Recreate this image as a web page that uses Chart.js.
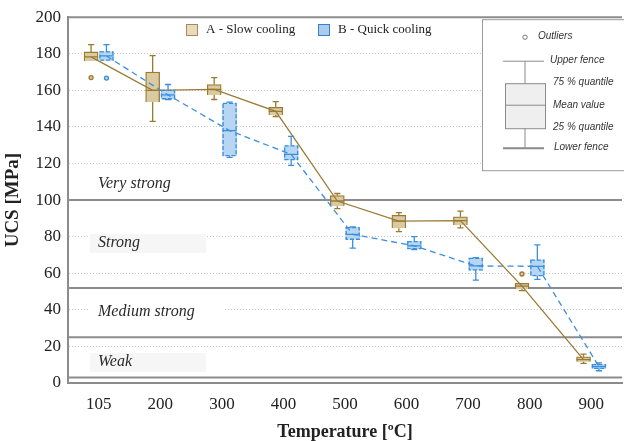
<!DOCTYPE html>
<html>
<head>
<meta charset="utf-8">
<script src="https://cdn.jsdelivr.net/npm/chart.js@4"></script>
<style>
  html, body { margin: 0; padding: 0; background: #fff; }
</style>
</head>
<body>
<canvas id="chart" width="624" height="441"></canvas>
<script>
// temperatures (categories)
const TEMPERATURES = ["105", "200", "300", "400", "500", "600", "700", "800", "900"];

// A - Slow cooling (UCS, MPa)
const A_MIN  = [176.0, 143.0, 155.0, 145.7, 95.3, 82.8, 84.8, 50.5, 10.7];
const A_Q1   = [176.0, 153.6, 157.4, 146.5, 96.7, 84.6, 86.4, 51.4, 11.6];
const A_MEAN = [178.3, 160.0, 160.5, 148.5, 99.5, 88.5, 88.8, 53.0, 12.8];
const A_Q3   = [181.0, 170.0, 163.2, 150.7, 102.5, 91.7, 90.9, 54.5, 14.3];
const A_MAX  = [185.0, 179.0, 167.0, 153.8, 103.6, 93.1, 94.0, 54.5, 15.8];
const A_OUT  = [[167.0], [], [], [], [], [], [], [59.6], []];

// B - Quick cooling (UCS, MPa)
const B_MIN  = [176.5, 155.0, 123.4, 119.0, 73.7, 73.0, 56.3, 56.7, 6.7];
const B_Q1   = [176.5, 155.4, 124.3, 122.1, 78.6, 73.5, 61.8, 58.7, 8.0];
const B_MEAN = [178.8, 157.5, 138.0, 125.0, 81.3, 75.0, 64.0, 63.8, 9.0];
const B_Q3   = [181.0, 160.0, 152.9, 129.7, 85.0, 77.3, 68.1, 67.2, 10.1];
const B_MAX  = [185.0, 163.2, 153.6, 134.8, 85.3, 80.0, 68.5, 75.5, 11.0];
const B_OUT  = [[166.7], [], [], [], [], [], [], [], []];

// strength classes: limit lines and labels
const CLASS_LIMITS = [100, 52, 25, 3];
const CLASS_NAMES  = ["Very strong", "Strong", "Medium strong", "Weak"];
const CLASS_LABEL_AT = [109, 76.5, 39, 11.5];

const Y_TICKS = [0, 20, 40, 60, 80, 100, 120, 140, 160, 180, 200];

const A_FILL = "#d9caa2", A_BORDER = "#9a7a30";
const B_FILL = "#b6d6f3", B_BORDER = "#3a8edb";
const SERIF = "'Liberation Serif', 'DejaVu Serif', serif";
const SANS = "'Liberation Sans', Arial, sans-serif";

const SHIFT = 0.125; // box centre offset from the category centre, in category units

function boxData(q1, q3, dx) { return q1.map((v, i) => ({ x: i + dx, y: [v, q3[i]] })); }
function meanLine(mean, dx) { return mean.map((v, i) => ({ x: i + dx, y: v })); }

const boxPlugin = {
  id: "boxExtras",
  beforeDatasetsDraw(chart) {
    const { ctx, chartArea: ca, scales: { y } } = chart;
    ctx.save();
    // top frame
    ctx.strokeStyle = "#8c8c8c";
    ctx.lineWidth = 2;
    ctx.beginPath();
    ctx.moveTo(ca.left, ca.top); ctx.lineTo(ca.right, ca.top);
    ctx.stroke();
    // class label backgrounds + labels
    ctx.font = "italic 16px " + SERIF;
    ctx.textBaseline = "middle";
    CLASS_NAMES.forEach((name, i) => {
      const py = y.getPixelForValue(CLASS_LABEL_AT[i]);
      if (name === "Strong" || name === "Weak") {
        ctx.fillStyle = "#f6f6f6";
        ctx.fillRect(ca.left + 22, py - 9, 116, 19);
      } else if (name === "Medium strong") {
        ctx.fillStyle = "#fff";
        ctx.fillRect(ca.left + 22, py - 9, 134, 19);
      }
      ctx.fillStyle = "#2a2a2a";
      ctx.fillText(name, ca.left + 30, py);
    });
    // class limit lines
    ctx.strokeStyle = "#8c8c8c";
    ctx.lineWidth = 2;
    CLASS_LIMITS.forEach(v => {
      const py = y.getPixelForValue(v);
      ctx.beginPath();
      ctx.moveTo(ca.left, py); ctx.lineTo(ca.right, py);
      ctx.stroke();
    });
    ctx.restore();
  },
  afterDatasetsDraw(chart) {
    const { ctx, chartArea: ca, scales: { y } } = chart;
    ctx.save();
    chart.data.datasets.forEach((ds, di) => {
      if (ds.type !== "bar") return;
      const meta = chart.getDatasetMeta(di);
      meta.data.forEach((el, i) => {
        const p = el.getProps(["x", "y", "base", "width"], true);
        const half = p.width / 2, cap = p.width * 0.22;
        ctx.strokeStyle = ds.borderColor;
        ctx.lineWidth = 1.3;
        if (ds.dashed) {
          ctx.setLineDash([4, 2]);
          ctx.strokeRect(p.x - half + 0.5, p.y, p.width - 1, p.base - p.y);
          ctx.setLineDash([]);
        }
        // mean
        const pm = y.getPixelForValue(ds.stats.mean[i]);
        ctx.beginPath();
        ctx.moveTo(p.x - half, pm); ctx.lineTo(p.x + half, pm);
        // whiskers
        const pmax = y.getPixelForValue(ds.stats.max[i]);
        const pmin = y.getPixelForValue(ds.stats.min[i]);
        if (pmax < p.y - 0.5) {
          ctx.moveTo(p.x, p.y); ctx.lineTo(p.x, pmax);
          ctx.moveTo(p.x - cap, pmax); ctx.lineTo(p.x + cap, pmax);
        }
        if (pmin > p.base + 0.5) {
          ctx.moveTo(p.x, p.base); ctx.lineTo(p.x, pmin);
          ctx.moveTo(p.x - cap, pmin); ctx.lineTo(p.x + cap, pmin);
        }
        ctx.stroke();
        // outliers
        ds.stats.out[i].forEach(v => {
          ctx.beginPath();
          ctx.arc(p.x, y.getPixelForValue(v), 2, 0, Math.PI * 2);
          ctx.fillStyle = ds.backgroundColor;
          ctx.fill();
          ctx.stroke();
        });
      });
    });

    // series legend (top)
    ctx.font = "13px " + SERIF;
    ctx.textBaseline = "middle";
    const legend = [
      { label: "A - Slow cooling", fill: "#e7dbbe", border: "#b0865a", x: 186 },
      { label: "B - Quick cooling", fill: "#a9ccef", border: "#3c7fc4", x: 318 }
    ];
    legend.forEach(it => {
      ctx.fillStyle = it.fill;
      ctx.fillRect(it.x, 24, 12, 12);
      ctx.strokeStyle = it.border;
      ctx.lineWidth = 1;
      ctx.strokeRect(it.x + 0.5, 24.5, 11, 11);
      ctx.fillStyle = "#222";
      ctx.fillText(it.label, it.x + 20, 30);
    });

    // box plot key (right)
    const kx = ca.right - 140, ky = ca.top + 2;
    ctx.fillStyle = "#fff";
    ctx.fillRect(kx, ky, 150, 152);
    ctx.strokeStyle = "#9a9a9a";
    ctx.lineWidth = 1;
    ctx.strokeRect(kx + 0.5, ky + 0.5, 150, 151);
    const cx = kx + 43;
    ctx.strokeStyle = "#777";
    ctx.beginPath();
    ctx.arc(cx, ky + 18, 2.2, 0, Math.PI * 2);
    ctx.stroke();
    ctx.strokeStyle = "#8a8a8a";
    ctx.beginPath();
    ctx.moveTo(kx + 21, ky + 42); ctx.lineTo(kx + 62, ky + 42);
    ctx.moveTo(cx, ky + 42); ctx.lineTo(cx, ky + 64);
    ctx.moveTo(cx, ky + 109); ctx.lineTo(cx, ky + 129);
    ctx.stroke();
    ctx.lineWidth = 2;
    ctx.beginPath();
    ctx.moveTo(kx + 21, ky + 129); ctx.lineTo(kx + 62, ky + 129);
    ctx.stroke();
    ctx.lineWidth = 1;
    ctx.fillStyle = "#efefef";
    ctx.fillRect(kx + 23, ky + 64, 40, 45);
    ctx.strokeRect(kx + 23.5, ky + 64.5, 40, 45);
    ctx.beginPath();
    ctx.moveTo(kx + 23, ky + 86); ctx.lineTo(kx + 63, ky + 86);
    ctx.stroke();
    ctx.font = "italic 10px " + SANS;
    ctx.fillStyle = "#333";
    ctx.fillText("Outliers", kx + 56, ky + 17);
    ctx.fillText("Upper fence", kx + 68, ky + 41);
    ctx.fillText("75 % quantile", kx + 71, ky + 63);
    ctx.fillText("Mean value", kx + 71, ky + 86);
    ctx.fillText("25 % quantile", kx + 71, ky + 108);
    ctx.fillText("Lower fence", kx + 72, ky + 128);
    ctx.restore();
  }
};

new Chart(document.getElementById("chart"), {
  data: {
    labels: TEMPERATURES,
    datasets: [
      {
        type: "bar", label: "A - Slow cooling", data: boxData(A_Q1, A_Q3, -SHIFT), xAxisID: "xl",
        backgroundColor: A_FILL, borderColor: A_BORDER, borderWidth: 1.3,
        stats: { min: A_MIN, mean: A_MEAN, max: A_MAX, out: A_OUT }, order: 2
      },
      {
        type: "bar", label: "B - Quick cooling", data: boxData(B_Q1, B_Q3, SHIFT), xAxisID: "xl",
        backgroundColor: B_FILL, borderColor: B_BORDER, borderWidth: 0, dashed: true,
        stats: { min: B_MIN, mean: B_MEAN, max: B_MAX, out: B_OUT }, order: 2
      },
      {
        type: "line", label: "A mean", data: meanLine(A_MEAN, -SHIFT), xAxisID: "xl",
        borderColor: "#9b7b35", borderWidth: 1.3, pointRadius: 0, tension: 0, order: 1
      },
      {
        type: "line", label: "B mean", data: meanLine(B_MEAN, SHIFT), xAxisID: "xl",
        borderColor: "#3d8fdc", borderWidth: 1.3, borderDash: [6, 4], pointRadius: 0, tension: 0, order: 1
      }
    ]
  },
  options: {
    responsive: false,
    animation: false,
    layout: { padding: { top: 15, right: 2, left: 0, bottom: 0 } },
    datasets: { bar: { grouped: false, barThickness: 14 } },
    plugins: { legend: { display: false }, tooltip: { enabled: false } },
    scales: {
      x: {
        type: "category",
        offset: true,
        grid: { display: false },
        border: { display: true, color: "#8c8c8c", width: 2 },
        ticks: { color: "#222", font: { family: SERIF, size: 17 }, padding: 3 },
        title: {
          display: true, text: "Temperature [ºC]", color: "#222",
          font: { family: SERIF, size: 18, weight: "bold" }, padding: { top: 0, bottom: -2 }
        },
        afterFit: s => { s.height = 58; }
      },
      xl: {
        type: "linear", display: false, min: -0.5, max: 8.5,
        offset: false, grid: { offset: false }
      },
      y: {
        min: 0, max: 200, stacked: false,
        afterBuildTicks: s => { s.ticks = Y_TICKS.map(v => ({ value: v })); },
        grid: { color: "#c4c4c4", lineWidth: 1, drawTicks: false },
        border: { display: true, color: "#8c8c8c", width: 2, dash: [1, 2] },
        ticks: { color: "#222", font: { family: SERIF, size: 17 }, padding: 7 },
        title: {
          display: true, text: "UCS [MPa]", color: "#222",
          font: { family: SERIF, size: 19, weight: "bold" }, padding: 2
        },
        afterFit: s => { s.width = 68; }
      }
    }
  },
  plugins: [boxPlugin]
});
</script>
</body>
</html>
